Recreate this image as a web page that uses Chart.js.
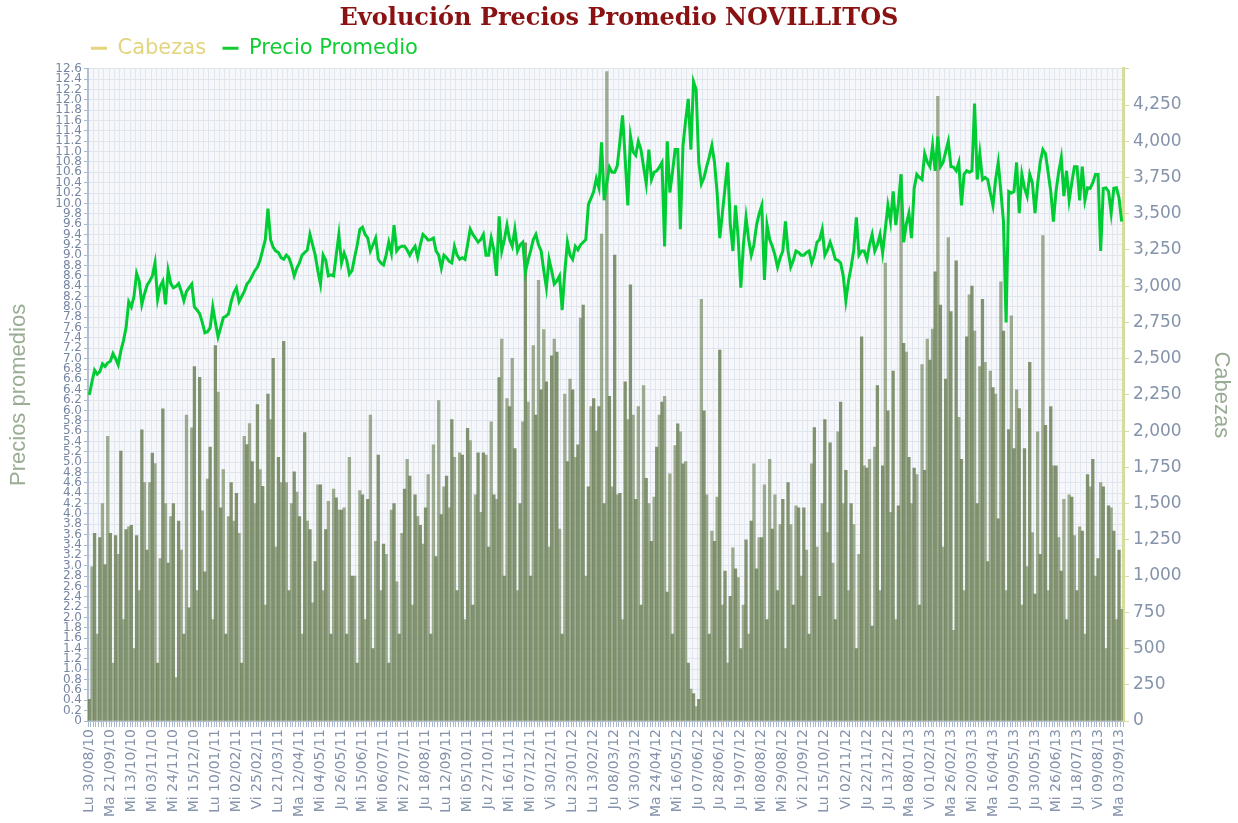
<!DOCTYPE html>
<html>
<head>
<meta charset="utf-8">
<script src="https://cdn.jsdelivr.net/npm/chart.js@4/dist/chart.umd.min.js"></script>
<style>
  html, body { margin: 0; padding: 0; background: #fff; }
  #wrap { width: 1238px; height: 823px; }
</style>
</head>
<body>
<div id="wrap"><canvas id="chart" width="1238" height="823"></canvas></div>
<script>
// one tick label every 8 points
const tickLabels = [
  "Lu 30/08/10", "Ma 21/09/10", "Mi 13/10/10", "Mi 03/11/10", "Mi 24/11/10", "Mi 15/12/10",
  "Lu 10/01/11", "Mi 02/02/11", "Vi 25/02/11", "Lu 21/03/11", "Ma 12/04/11", "Mi 04/05/11",
  "Ju 26/05/11", "Mi 15/06/11", "Mi 06/07/11", "Mi 27/07/11", "Ju 18/08/11", "Lu 12/09/11",
  "Mi 05/10/11", "Ju 27/10/11", "Mi 16/11/11", "Mi 07/12/11", "Vi 30/12/11", "Lu 23/01/12",
  "Lu 13/02/12", "Ju 08/03/12", "Vi 30/03/12", "Ma 24/04/12", "Mi 16/05/12", "Ju 07/06/12",
  "Ju 28/06/12", "Ju 19/07/12", "Mi 08/08/12", "Mi 29/08/12", "Vi 21/09/12", "Lu 15/10/12",
  "Vi 02/11/12", "Ju 22/11/12", "Ju 13/12/12", "Ma 08/01/13", "Vi 01/02/13", "Ma 26/02/13",
  "Mi 20/03/13", "Ma 16/04/13", "Ju 09/05/13", "Ju 30/05/13", "Mi 26/06/13", "Ju 18/07/13",
  "Vi 09/08/13", "Ma 03/09/13"
];

const precioPromedio = [
  6.3, 6.55, 6.78, 6.7, 6.75, 6.9, 6.85, 6.92,
  6.95, 7.1, 7.0, 6.88, 7.15, 7.35, 7.6, 8.1,
  8.0, 8.2, 8.65, 8.5, 8.05, 8.25, 8.42, 8.5,
  8.6, 8.85, 8.15, 8.4, 8.5, 8.05, 8.7, 8.45,
  8.37, 8.4, 8.45, 8.3, 8.12, 8.3, 8.37, 8.44,
  8.0, 7.94, 7.87, 7.7, 7.5, 7.52, 7.6, 8.0,
  7.7, 7.42, 7.6, 7.79, 7.82, 7.87, 8.1, 8.27,
  8.37, 8.1, 8.2, 8.3, 8.44, 8.5, 8.6, 8.7,
  8.77, 8.9, 9.1, 9.3, 9.9, 9.3, 9.15, 9.08,
  9.05, 8.95, 8.92, 9.0, 8.95, 8.8, 8.6, 8.75,
  8.85, 9.0, 9.05, 9.1, 9.4, 9.2, 9.0, 8.7,
  8.44, 9.0, 8.9, 8.6, 8.62, 8.6, 9.0, 9.4,
  8.85, 9.04, 8.9, 8.63, 8.7, 8.96, 9.2, 9.5,
  9.54, 9.4, 9.33, 9.08, 9.2, 9.33, 8.92, 8.85,
  8.81, 9.0, 9.25, 9.04, 9.58, 9.08, 9.15, 9.17,
  9.17, 9.1, 9.0, 9.1, 9.17, 8.96, 9.2, 9.4,
  9.35, 9.29, 9.3, 9.33, 9.08, 9.0, 8.75, 9.0,
  8.95, 8.88, 8.85, 9.17, 9.0, 8.92, 8.95, 8.92,
  9.2, 9.5, 9.4, 9.33, 9.25, 9.3, 9.4, 9.0,
  9.0, 9.33, 9.1, 8.6, 9.75, 9.08, 9.3, 9.58,
  9.3, 9.17, 9.5, 9.08, 9.2, 9.25, 8.67, 8.9,
  9.08, 9.3, 9.4, 9.2, 9.08, 8.7, 8.37, 8.92,
  8.7, 8.44, 8.5, 8.6, 7.94, 8.67, 9.25, 9.0,
  8.92, 9.17, 9.1, 9.2, 9.25, 9.3, 9.98, 10.1,
  10.23, 10.48, 10.3, 11.18, 10.06, 10.4, 10.7, 10.6,
  10.6, 10.73, 11.2, 11.7, 10.85, 9.96, 11.3, 11.0,
  10.93, 11.2, 11.04, 10.7, 10.38, 11.04, 10.46, 10.6,
  10.63, 10.7, 10.79, 9.17, 11.2, 10.21, 10.6, 11.04,
  11.04, 9.5, 11.12, 11.6, 12.02, 11.04, 12.35, 12.2,
  10.79, 10.38, 10.5, 10.71, 10.9, 11.12, 10.79, 10.2,
  9.33, 9.81, 10.3, 10.79, 9.6, 9.08, 9.96, 9.33,
  8.37, 9.2, 9.73, 9.3, 9.0, 9.2, 9.58, 9.8,
  9.96, 8.52, 9.58, 9.3, 9.17, 9.0, 8.77, 8.95,
  9.08, 9.65, 9.08, 8.77, 8.9, 9.08, 9.05, 9.0,
  9.0, 9.05, 9.08, 8.85, 9.0, 9.25, 9.3, 9.5,
  9.0, 9.1, 9.25, 9.1, 8.92, 8.9, 8.85, 8.6,
  8.12, 8.5, 8.77, 9.1, 9.73, 9.0, 9.08, 9.08,
  8.92, 9.2, 9.4, 9.08, 9.2, 9.4, 9.04, 9.5,
  9.96, 9.65, 10.23, 9.58, 10.0, 10.56, 9.25, 9.6,
  9.81, 9.33, 10.29, 10.56, 10.5, 10.46, 10.96, 10.8,
  10.71, 11.12, 10.63, 11.29, 10.71, 10.79, 11.0, 11.2,
  10.71, 10.7, 10.63, 10.79, 9.96, 10.56, 10.63, 10.6,
  10.63, 11.93, 10.46, 10.96, 10.46, 10.5, 10.46, 10.2,
  9.96, 10.46, 10.79, 10.23, 9.65, 7.7, 10.23, 10.2,
  10.23, 10.79, 9.81, 10.56, 10.3, 10.14, 10.56, 10.4,
  9.81, 10.38, 10.8, 11.04, 10.96, 10.6, 10.23, 9.65,
  10.23, 10.6, 10.88, 10.14, 10.63, 10.06, 10.4, 10.71,
  10.71, 10.06, 10.71, 10.06, 10.3, 10.29, 10.4, 10.56,
  10.56, 9.08, 10.29, 10.3, 10.23, 9.81, 10.29, 10.3,
  10.1, 9.65
];

const cabezas = [
  150, 1063, 1295, 600, 1265, 1500, 1080, 1965,
  1295, 400, 1280, 1150, 1863, 700, 1320, 1340,
  1350, 500, 1280, 900, 2009, 1645, 1180, 1645,
  1848, 1776, 400, 1120, 2154, 1500, 1090, 1410,
  1500, 300, 1380, 1180, 600, 2110, 780, 2023,
  2445, 900, 2372, 1450, 1030, 1670, 1890, 700,
  2591, 2270, 1470, 1735, 600, 1410, 1645, 1380,
  1570, 1295, 400, 1965, 1907, 2052, 1790, 1500,
  2183, 1735, 1620, 800, 2256, 2080, 2503, 1200,
  1820, 1645, 2620, 1645, 900, 1500, 1720, 1580,
  1410, 600, 1990, 1380, 1320, 815, 1100, 1630,
  1630, 900, 1320, 1515, 600, 1600, 1540, 1455,
  1455, 1470, 600, 1820, 1000, 1000, 400, 1590,
  1560, 700, 1530, 2110, 500, 1240, 1835, 900,
  1220, 1150, 400, 1455, 1500, 960, 600, 1295,
  1600, 1805, 1690, 800, 1560, 1410, 1350, 1220,
  1470, 1700, 600, 1905, 1135, 2210, 1425, 1615,
  1690, 1470, 2080, 1820, 900, 1850, 1835, 700,
  2020, 1935, 800, 1560, 1850, 1440, 1850, 1835,
  1200, 2065, 1560, 1530, 2370, 2635, 1000, 2225,
  2170, 2503, 1880, 900, 1500, 2065, 3300, 2200,
  1000, 2590, 2110, 3040, 2285, 2700, 2340, 1200,
  2520, 2635, 2545, 1325, 600, 2255, 1790, 2360,
  2285, 1820, 1905, 2780, 2870, 1000, 1615, 2170,
  2225, 2000, 2170, 3360, 1500, 4480, 2240, 1615,
  3215, 1560, 1570, 700, 2340, 2080, 3010, 2110,
  1530, 2170, 800, 2315, 1675, 1500, 1240, 1545,
  1890, 2110, 2200, 2240, 890, 1705, 600, 1900,
  2050, 1995, 1775, 1790, 400, 220, 190, 100,
  150, 2910, 2140, 1560, 600, 1310, 1240, 1545,
  2560, 800, 1035, 400, 860, 1195, 1050, 990,
  500, 800, 1250, 600, 1380, 1775, 1050, 1265,
  1265, 1630, 700, 1805, 1325, 1560, 900, 1355,
  1530, 500, 1645, 1355, 800, 1485, 1470, 1000,
  1470, 1180, 600, 1775, 2025, 1200, 860, 1500,
  2080, 1300, 1920, 1090, 700, 1995, 2200, 1500,
  1730, 900, 1500, 1355, 500, 1150, 2650, 1760,
  1745, 1805, 655, 1890, 2315, 900, 1760, 3160,
  2140, 1440, 2415, 700, 1485, 3770, 2605, 2545,
  1820, 1500, 1745, 1700, 800, 2460, 1730, 2635,
  2490, 2705, 3100, 4310, 2870, 1200, 2360, 3335,
  2825, 625, 3175, 2095, 1805, 900, 2650, 2940,
  3000, 2690, 1500, 2445, 2910, 2475, 1100, 2415,
  2300, 2255, 1395, 3030, 2690, 900, 2010, 2795,
  1880, 2285, 2155, 800, 1880, 1065, 2475, 1300,
  875, 1995, 1150, 3350, 2040, 900, 2170, 1760,
  1760, 1265, 1035, 1530, 700, 1560, 1545, 1280,
  900, 1340, 1310, 600, 1700, 1615, 1805, 1000,
  1120, 1645, 1615, 500, 1485, 1470, 1310, 700,
  1180, 770
];

const fechas = precioPromedio.map((_, i) => (i % 8 === 0 ? tickLabels[i / 8] : ""));

const plotBg = {
  id: "plotBg",
  beforeDraw(chart) {
    const { ctx, chartArea: a } = chart;
    ctx.save();
    ctx.fillStyle = "#f5f7fb";
    ctx.fillRect(a.left, a.top, a.right - a.left, a.bottom - a.top);
    ctx.restore();
  }
};

new Chart(document.getElementById("chart"), {
  type: "bar",
  data: {
    labels: fechas,
    datasets: [
      {
        type: "bar",
        label: "Cabezas",
        data: cabezas,
        yAxisID: "y1",
        backgroundColor: (c) => (c.dataIndex % 2 === 0 ? "rgba(104,124,82,0.82)" : "rgba(120,138,98,0.7)"),
        borderWidth: 0,
        barPercentage: 1,
        categoryPercentage: 1,
        order: 2
      },
      {
        type: "line",
        label: "Precio Promedio",
        data: precioPromedio,
        yAxisID: "y",
        borderColor: "#00cc33",
        borderWidth: 3,
        pointRadius: 0,
        tension: 0,
        order: 1
      }
    ]
  },
  options: {
    responsive: false,
    animation: false,
    layout: { padding: 0 },
    plugins: {
      title: {
        display: true,
        text: "Evolución Precios Promedio NOVILLITOS",
        color: "#8b1212",
        font: { family: "DejaVu Serif", size: 24, weight: "bold" },
        padding: { top: 4, bottom: 2 }
      },
      legend: {
        display: true,
        position: "top",
        align: "start",
        fullSize: false,
        labels: {
          usePointStyle: true,
          pointStyle: "line",
          pointStyleWidth: 16,
          boxHeight: 3,
          padding: 3,
          font: { family: "DejaVu Sans", size: 21 },
          generateLabels: () => [
            { text: "Cabezas  ", fillStyle: "#e3d47e", strokeStyle: "#e3d47e", lineWidth: 3, fontColor: "#e3d47e", pointStyle: "line", datasetIndex: 0, hidden: false },
            { text: "Precio Promedio", fillStyle: "#11cc33", strokeStyle: "#11cc33", lineWidth: 3, fontColor: "#11cc33", pointStyle: "line", datasetIndex: 1, hidden: false }
          ]
        }
      },
      tooltip: { enabled: false }
    },
    scales: {
      x: {
        offset: true,
        grid: {
          offset: true,
          color: (c) => (c.index % 2 === 0 ? "#e2e7ef" : "rgba(0,0,0,0)"),
          tickColor: "#a9b8cf",
          tickLength: 6
        },
        border: { color: "#b3c0d4", width: 1 },
        ticks: {
          autoSkip: false,
          minRotation: 90,
          maxRotation: 90,
          padding: 2,
          color: "#8593ab",
          font: { family: "DejaVu Sans", size: 14 }
        },
        afterFit: (s) => { s.height = 102; }
      },
      y: {
        position: "left",
        min: 0,
        max: 12.6,
        ticks: {
          stepSize: 0.2,
          autoSkip: false,
          padding: 2,
          color: "#7686a2",
          font: { family: "DejaVu Sans", size: 12 }
        },
        grid: { color: "#e0e5ee", tickColor: "#a9b8cf", tickLength: 4 },
        border: { color: "#b0bed4", width: 2 },
        title: {
          display: true,
          text: "Precios promedios",
          color: "#9aad94",
          font: { family: "Liberation Sans", size: 22 },
          padding: { top: 6, bottom: 0 }
        },
        afterFit: (s) => { s.width = 88; }
      },
      y1: {
        position: "right",
        min: 0,
        max: 4500,
        ticks: {
          stepSize: 250,
          padding: 4,
          color: "#8593ab",
          font: { family: "DejaVu Sans", size: 17 },
          callback: (v) => (v >= 4500 ? "" : v.toLocaleString("en-US"))
        },
        grid: { drawOnChartArea: false, color: "#d6dc9b", tickLength: 6 },
        border: { color: "#d6dc9b", width: 3 },
        title: {
          display: true,
          text: "Cabezas",
          color: "#9aab94",
          font: { family: "Liberation Sans", size: 22 },
          padding: { top: 4, bottom: 0 }
        },
        afterFit: (s) => { s.width = 115; }
      }
    }
  },
  plugins: [plotBg]
});
</script>
</body>
</html>
